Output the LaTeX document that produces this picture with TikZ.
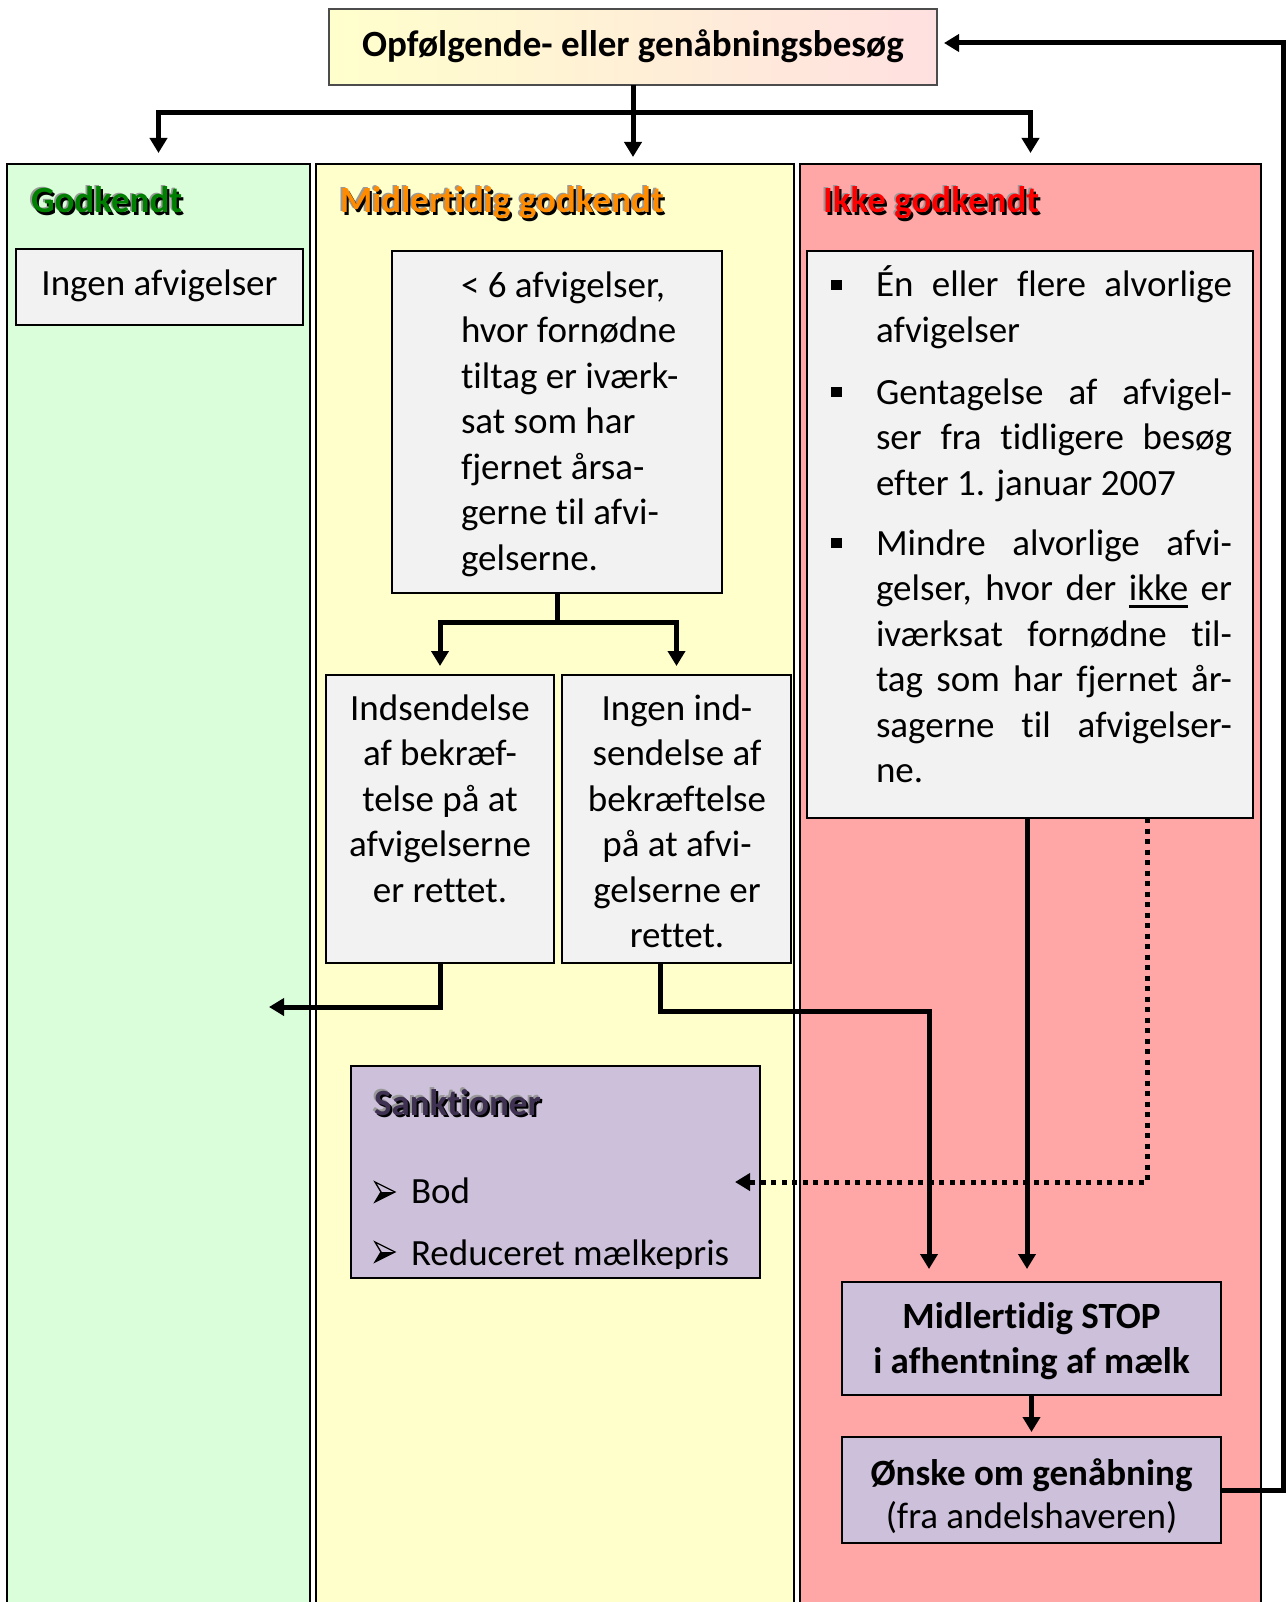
\documentclass[tikz,border=0pt]{standalone}
\usepackage{fontspec}
\setmainfont[Ligatures=NoCommon]{Carlito}
\usetikzlibrary{arrows.meta,calc}
\definecolor{cG}{RGB}{218,253,218}
\definecolor{cY}{RGB}{255,255,204}
\definecolor{cR}{RGB}{255,166,166}
\definecolor{cBox}{RGB}{242,242,242}
\definecolor{cLav}{RGB}{204,192,218}
\definecolor{cTa}{RGB}{255,255,204}
\definecolor{cTb}{RGB}{255,224,224}
\definecolor{hG}{RGB}{0,128,0}
\definecolor{hO}{RGB}{255,140,0}
\definecolor{hR}{RGB}{255,0,0}
\definecolor{hP}{RGB}{63,49,81}
\newcommand\embtext[2]{\rlap{\kern-1.8pt\raisebox{1.8pt}{\color{black!40}#2}}\rlap{\kern2.2pt\raisebox{-2.2pt}{\color{black}#2}}{\color{#1}#2}}
\newcommand\ulword[1]{\setbox0\hbox{#1}\rlap{\rule[-7.5pt]{\wd0}{2.7pt}}\box0\relax}
\begin{document}
\begin{tikzpicture}[x=1pt,y=-1pt,
  every node/.style={inner sep=0pt, outer sep=0pt},
  txt/.style={font=\fontsize{37}{45.5}\selectfont, text=black},
  btxt/.style={font=\fontsize{37}{45.5}\selectfont\bfseries, text=black},
  column/.style={draw=black, line width=1.5pt, rectangle},
  box/.style={draw=black, line width=1.8pt, rectangle, fill=cBox},
  lavbox/.style={draw=black, line width=1.8pt, rectangle, fill=cLav},
  conn/.style={line width=5pt, -{Triangle[width=17pt,length=15pt]}},
  dconn/.style={line width=5pt, dash pattern=on 5pt off 5.5pt, -{Triangle[width=17pt,length=15pt]}},
  jl/.style={font=\fontsize{37}{45.5}\selectfont, text=black, anchor=base west},
  bullsq/.style={fill=black, minimum width=10.5pt, minimum height=10.5pt, rectangle},
  arrowbul/.pic={
    \fill[black] (0,0) -- (20,-10) -- (6,-10) -- cycle;
    \draw[black, line width=1.3pt, line join=miter] (0,-20) -- (20,-10) -- (0,0) -- (6,-10) -- cycle;
  }
]
\path[use as bounding box] (0,0) rectangle (1287,1602);
\clip (0,0) rectangle (1287,1602);
\fill[white] (0,0) rectangle (1287,1602);

% columns
\node[column, fill=cG, minimum width=303pt, minimum height=1476pt] (colG) at (158.5,902) {};
\node[column, fill=cY, minimum width=478pt, minimum height=1476pt] (colM) at (555,902) {};
\node[column, fill=cR, minimum width=461pt, minimum height=1476pt] (colR) at (1030.5,902) {};

% title
\node[draw=black!70, line width=1.5pt, left color=cTa, right color=cTb, minimum width=608pt, minimum height=76pt] (title) at (633,47) {};
\node[btxt, anchor=base] (titleT) at (633,57) {Opfølgende- eller genåbningsbesøg};

% headings
\node[btxt, anchor=base west] (hdG) at (31,213) {\embtext{hG}{Godkendt}};
\node[btxt, anchor=base west] (hdM) at (340,213) {\embtext{hO}{Midlertidig godkendt}};
\node[btxt, anchor=base west] (hdR) at (823,213) {\embtext{hR}{Ikke godkendt}};

% boxes
\node[box, minimum width=287pt, minimum height=76pt] (b0) at (159.5,287) {};
\node[txt, anchor=base] (t0) at (159.5,296) {Ingen afvigelser};

\node[box, minimum width=330pt, minimum height=342pt] (b1) at (557,422) {};
\node[txt, anchor=north west, align=left] (t1) at (461,265.15) {\strut< 6 afvigelser,\\hvor fornødne\\tiltag er iværk-\\sat som har\\fjernet årsa-\\gerne til afvi-\\gelserne.};

\node[box, minimum width=228pt, minimum height=288pt] (b2) at (440,819) {};
\node[txt, anchor=north, align=center] (t2) at (440,688.15) {\strut Indsendelse\\af bekræf-\\telse på at\\afvigelserne\\er rettet.};

\node[box, minimum width=229pt, minimum height=288pt] (b3) at (676.5,819) {};
\node[txt, anchor=north, align=center] (t3) at (677,688.15) {\strut Ingen ind-\\sendelse af\\bekræftelse\\på at afvi-\\gelserne er\\rettet.};

\node[box, minimum width=446pt, minimum height=567pt] (rb) at (1030,534.5) {};
\node[bullsq] (q1) at (836.5,285) {};
\node[bullsq] (q2) at (836.5,392) {};
\node[bullsq] (q3) at (836.5,543) {};
\node[jl] (r1) at (876,297) {\makebox[356pt][s]{Én eller flere alvorlige}};
\node[jl] (r2) at (876,342.5) {afvigelser};
\node[jl] (r3) at (876,404) {\makebox[356pt][s]{Gentagelse af afvigel-}};
\node[jl] (r4) at (876,449.5) {\makebox[356pt][s]{ser fra tidligere besøg}};
\node[jl] (r5) at (876,495) {efter 1. januar 2007};
\node[jl] (r6) at (876,555) {\makebox[356pt][s]{Mindre alvorlige afvi-}};
\node[jl] (r7) at (876,600.5) {\makebox[356pt][s]{gelser, hvor der \ulword{ikke} er}};
\node[jl] (r8) at (876,646) {\makebox[356pt][s]{iværksat fornødne til-}};
\node[jl] (r9) at (876,691.5) {\makebox[356pt][s]{tag som har fjernet år-}};
\node[jl] (r10) at (876,737) {\makebox[356pt][s]{sagerne til afvigelser-}};
\node[jl] (r11) at (876,782.5) {ne.};

% sanktioner
\node[lavbox, minimum width=409pt, minimum height=212pt] (sank) at (555.5,1172) {};
\node[btxt, anchor=base west] (sT) at (374,1115) {\embtext{hP}{Sanktioner}};
\pic at (375,1202) {arrowbul};
\begin{scope}
\clip (sank.north west) rectangle (760,1268);
\node[jl] (s1) at (411,1203) {Bod};
\pic at (375,1262) {arrowbul};
\node[jl] (s2) at (411,1265) {Reduceret mælkepris};
\end{scope}

% stop and wish
\node[lavbox, minimum width=379pt, minimum height=113pt] (stop) at (1031.5,1338.5) {};
\node[btxt, anchor=north, align=center] (stopT) at (1031.5,1296.15) {\strut Midlertidig STOP\\i afhentning af mælk};
\node[lavbox, minimum width=379pt, minimum height=106pt] (wish) at (1031.5,1490) {};
\node[btxt, anchor=base] (w1) at (1031.5,1485) {Ønske om genåbning};
\node[txt, anchor=base] (w2) at (1031.5,1528) {(fra andelshaveren)};

% connectors
\coordinate (jt) at ($(title.south)+(0,28)$);
\draw[conn, shorten >=7pt] (title.south) -- (title.south |- colM.north);
\draw[conn, shorten >=11pt] (jt) -| (colG.north);
\draw[conn, shorten >=11pt] (jt) -| (colR.north);

\coordinate (j2) at ($(b1.south)+(0,29)$);
\draw[conn, shorten >=9pt] (b1.south) -- (j2) -| (b2.north);
\draw[conn, shorten >=9pt] (j2) -| (b3.north);

\coordinate (accL) at (269,1007);
\draw[conn] (b2.south) |- (accL);

\coordinate (k1) at (929,1011);
\draw[conn, shorten >=13pt] ([xshift=-16.5pt]b3.south) |- (k1) -- (k1 |- stop.north);

\draw[conn, shorten >=13pt] ([xshift=-3pt]rb.south) -- ([xshift=-3pt]rb.south |- stop.north);

\coordinate (dotEnd) at (735,1182);
\draw[dconn] ([xshift=117pt]rb.south) |- (dotEnd);

\draw[conn, shorten >=5pt] (stop.south) -- (wish.north);

\coordinate (loopTR) at (1283,43);
\draw[conn, shorten >=7pt] (wish.east) -| (loopTR) -- ([yshift=4pt]title.east);
\end{tikzpicture}
\end{document}
